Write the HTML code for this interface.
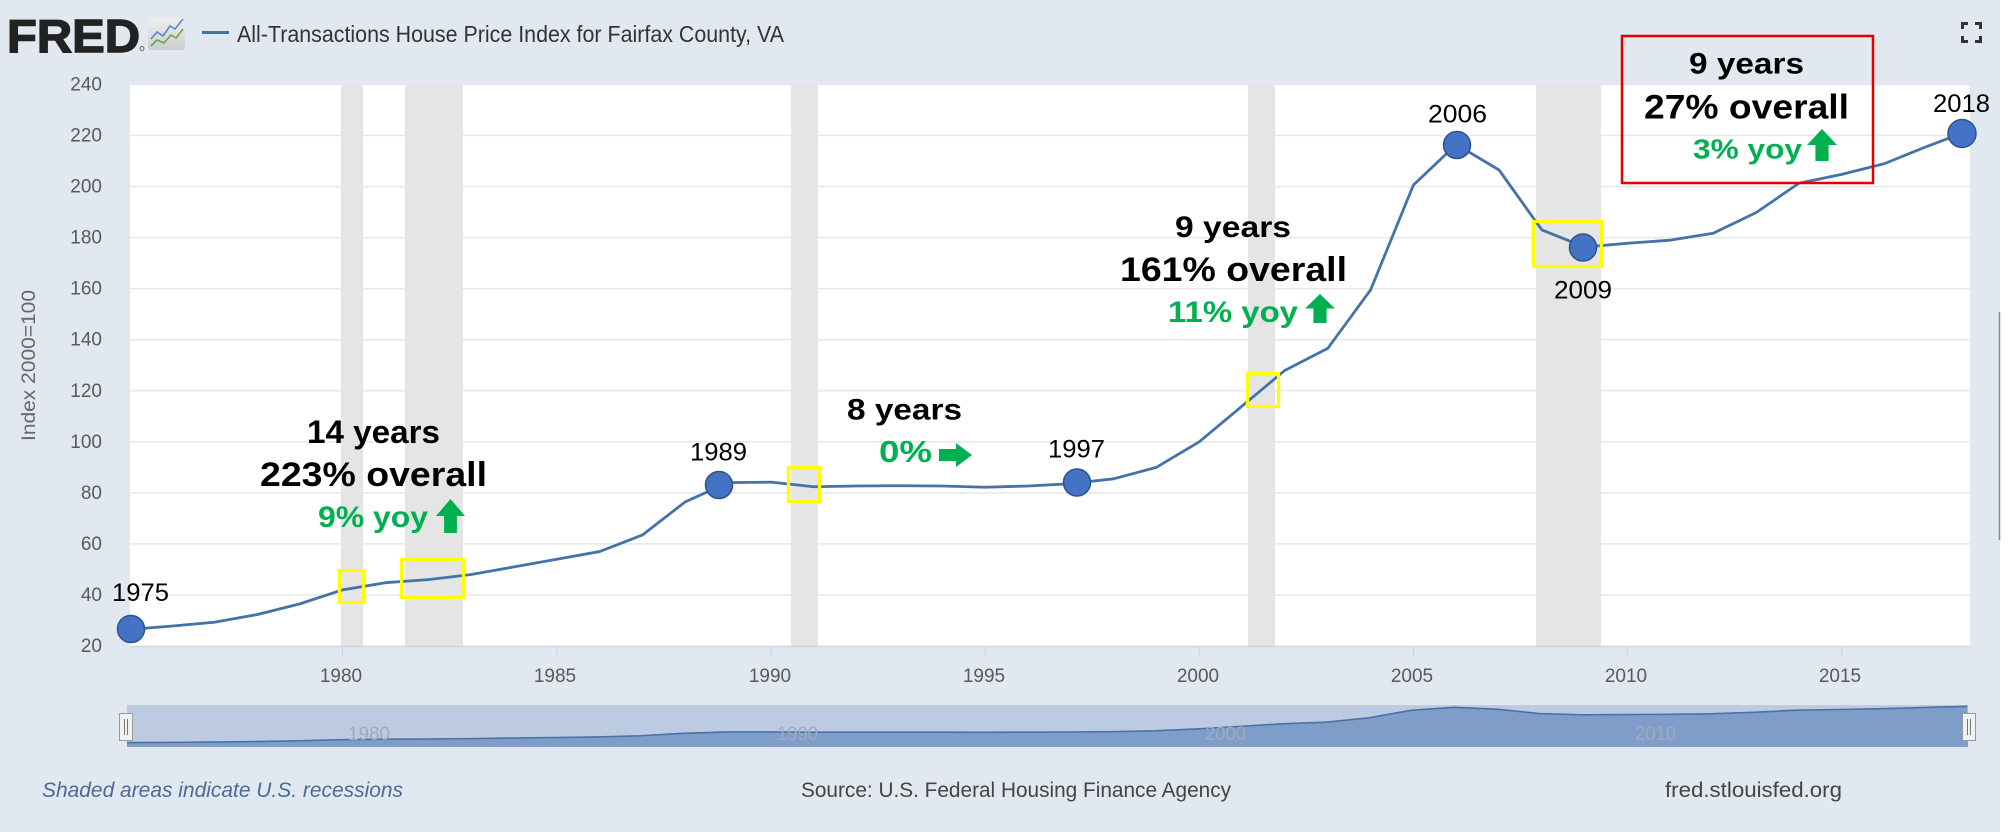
<!DOCTYPE html>
<html>
<head>
<meta charset="utf-8">
<style>
  html, body { margin: 0; padding: 0; background: #ffffff; }
  svg { display: block; }
  text { font-family: "Liberation Sans", Arial, sans-serif; }
</style>
</head>
<body>
<svg width="2010" height="837" viewBox="0 0 2010 837" xmlns="http://www.w3.org/2000/svg">
  <defs>
    <linearGradient id="ig" x1="0" y1="0" x2="0" y2="1">
      <stop offset="0" stop-color="#efefef"/>
      <stop offset="1" stop-color="#cdcdcd"/>
    </linearGradient>
  </defs>

  <!-- page background -->
  <rect x="0" y="0" width="2010" height="837" fill="#ffffff"/>
  <rect x="0" y="0" width="2000" height="832" fill="#e1e8f0"/>

  <!-- Header: FRED logo -->
  <text x="7" y="52" font-size="46" font-weight="bold" fill="#222" stroke="#222" stroke-width="1.4" textLength="133" lengthAdjust="spacingAndGlyphs">FRED</text>
  <circle cx="142" cy="48.5" r="2" fill="none" stroke="#444" stroke-width="0.8"/>
  <rect x="148" y="18" width="37" height="32" rx="3" fill="url(#ig)"/>
  <polyline points="151,39 157,32 163,36 170,26 175,29 183,19" fill="none" stroke="#5b86c5" stroke-width="1.6"/>
  <polyline points="151,46 157,40 164,43 171,35 176,38 183,29" fill="none" stroke="#6aa84f" stroke-width="1.6"/>

  <!-- legend -->
  <line x1="202" y1="32.5" x2="229" y2="32.5" stroke="#4572a7" stroke-width="3"/>
  <text x="237" y="42" font-size="23" fill="#333" textLength="547" lengthAdjust="spacingAndGlyphs">All-Transactions House Price Index for Fairfax County, VA</text>

  <!-- fullscreen icon -->
  <path d="M1962.5,29 V23.5 H1968 M1975,23.5 H1980.5 V29 M1962.5,36 V41.5 H1968 M1975,41.5 H1980.5 V36" fill="none" stroke="#333" stroke-width="3"/>

  <!-- right edge line -->
  <line x1="1999.5" y1="312" x2="1999.5" y2="540" stroke="#7b8ba3" stroke-width="1.5"/>

  <!-- plot area -->
  <rect x="130" y="84" width="1840" height="562" fill="#ffffff"/>

  <!-- gridlines -->
  <g stroke="#e8e8e8" stroke-width="1.5">
    <line x1="130" y1="84.5" x2="1970" y2="84.5"/>
    <line x1="130" y1="135.5" x2="1970" y2="135.5"/>
    <line x1="130" y1="186.6" x2="1970" y2="186.6"/>
    <line x1="130" y1="237.6" x2="1970" y2="237.6"/>
    <line x1="130" y1="288.7" x2="1970" y2="288.7"/>
    <line x1="130" y1="339.7" x2="1970" y2="339.7"/>
    <line x1="130" y1="390.8" x2="1970" y2="390.8"/>
    <line x1="130" y1="441.8" x2="1970" y2="441.8"/>
    <line x1="130" y1="492.9" x2="1970" y2="492.9"/>
    <line x1="130" y1="543.9" x2="1970" y2="543.9"/>
    <line x1="130" y1="595.0" x2="1970" y2="595.0"/>
  </g>

  <!-- recession bands -->
  <g fill="#e5e5e5">
    <rect x="341" y="84" width="22" height="562"/>
    <rect x="405" y="84" width="58" height="562"/>
    <rect x="791" y="84" width="27" height="562"/>
    <rect x="1248" y="84" width="27" height="562"/>
    <rect x="1536" y="84" width="65" height="562"/>
  </g>

  <!-- x axis line and ticks -->
  <line x1="130" y1="646.5" x2="1970" y2="646.5" stroke="#ccd6eb" stroke-width="1.5"/>
  <g stroke="#ccd6eb" stroke-width="1.2">
    <line x1="342.6" y1="646" x2="342.6" y2="656"/>
    <line x1="556.8" y1="646" x2="556.8" y2="656"/>
    <line x1="771" y1="646" x2="771" y2="656"/>
    <line x1="985.1" y1="646" x2="985.1" y2="656"/>
    <line x1="1199.2" y1="646" x2="1199.2" y2="656"/>
    <line x1="1413.4" y1="646" x2="1413.4" y2="656"/>
    <line x1="1627.5" y1="646" x2="1627.5" y2="656"/>
    <line x1="1841.7" y1="646" x2="1841.7" y2="656"/>
  </g>
  <g font-size="19" fill="#595959" text-anchor="middle">
    <text x="341" y="682">1980</text>
    <text x="555" y="682">1985</text>
    <text x="770" y="682">1990</text>
    <text x="984" y="682">1995</text>
    <text x="1198" y="682">2000</text>
    <text x="1412" y="682">2005</text>
    <text x="1626" y="682">2010</text>
    <text x="1840" y="682">2015</text>
  </g>

  <!-- y axis labels -->
  <g font-size="19" fill="#595959" text-anchor="end">
    <text x="102" y="90.5">240</text>
    <text x="102" y="141.5">220</text>
    <text x="102" y="192.6">200</text>
    <text x="102" y="243.6">180</text>
    <text x="102" y="294.7">160</text>
    <text x="102" y="345.7">140</text>
    <text x="102" y="396.8">120</text>
    <text x="102" y="447.8">100</text>
    <text x="102" y="498.9">80</text>
    <text x="102" y="549.9">60</text>
    <text x="102" y="601">40</text>
    <text x="102" y="652">20</text>
  </g>
  <text transform="translate(35,441) rotate(-90)" font-size="19" fill="#666" textLength="151" lengthAdjust="spacingAndGlyphs">Index 2000=100</text>

  <!-- series line -->
  <polyline fill="none" stroke="#4572a7" stroke-width="2.8" stroke-linejoin="round" stroke-linecap="round"
    points="130,629.41 171.33,626.09 214.16,622.26 256.99,614.61 299.82,603.89 342.65,589.85 385.48,582.7 428.31,579.64 471.14,574.54 513.97,566.88 556.8,559.22 599.63,551.56 642.46,534.97 685.29,501.8 728.12,482.65 770.95,482.14 813.78,486.74 856.61,485.97 899.44,485.72 942.27,485.97 985.1,487.25 1027.93,485.97 1070.76,483.67 1113.59,478.82 1156.42,467.34 1199.25,441.82 1242.08,406.08 1284.91,370.35 1327.74,348.4 1370.57,289.95 1413.4,185.05 1456.23,144.47 1499.06,170 1541.89,229.98 1584.72,247.08 1627.55,243.25 1670.38,240.18 1713.21,233.29 1756.04,212.62 1798.87,183.27 1841.7,174.33 1884.53,163.62 1927.36,146.26 1969.5,130.44"/>

  <!-- yellow boxes -->
  <g fill="none" stroke="#ffff00" stroke-width="3.2">
    <rect x="339.5" y="570.5" width="24" height="32"/>
    <rect x="401.5" y="559.5" width="62" height="38"/>
    <rect x="788.5" y="467.5" width="31" height="34"/>
    <rect x="1247.5" y="373.5" width="31" height="33"/>
    <rect x="1533.5" y="221.5" width="68" height="45"/>
  </g>

  <!-- red box -->
  <rect x="1622" y="36" width="251" height="147" fill="none" stroke="#e60000" stroke-width="2.5"/>

  <!-- dots -->
  <g fill="#4472c4" stroke="#2f528f" stroke-width="1.5">
    <circle cx="131" cy="629" r="13.5"/>
    <circle cx="719" cy="485" r="13.5"/>
    <circle cx="1077" cy="482.5" r="13.5"/>
    <circle cx="1457" cy="145" r="13.5"/>
    <circle cx="1583" cy="247.5" r="13.5"/>
    <circle cx="1962" cy="133.5" r="14"/>
  </g>

  <!-- year labels -->
  <g font-size="25" fill="#000">
    <text x="112" y="601" textLength="57" lengthAdjust="spacingAndGlyphs">1975</text>
    <text x="690" y="460.5" textLength="57" lengthAdjust="spacingAndGlyphs">1989</text>
    <text x="1048" y="457.5" textLength="57" lengthAdjust="spacingAndGlyphs">1997</text>
    <text x="1428" y="122.5" textLength="59" lengthAdjust="spacingAndGlyphs">2006</text>
    <text x="1554" y="298.5" textLength="58" lengthAdjust="spacingAndGlyphs">2009</text>
    <text x="1933" y="112" textLength="57" lengthAdjust="spacingAndGlyphs">2018</text>
  </g>

  <!-- annotation texts -->
  <g font-weight="bold" fill="#000">
    <text x="307" y="443" font-size="32" textLength="133" lengthAdjust="spacingAndGlyphs">14 years</text>
    <text x="260" y="486" font-size="34" textLength="227" lengthAdjust="spacingAndGlyphs">223% overall</text>
    <text x="847" y="419.5" font-size="30" textLength="115" lengthAdjust="spacingAndGlyphs">8 years</text>
    <text x="1175" y="237" font-size="30" textLength="116" lengthAdjust="spacingAndGlyphs">9 years</text>
    <text x="1120" y="281" font-size="34" textLength="227" lengthAdjust="spacingAndGlyphs">161% overall</text>
    <text x="1689" y="73.5" font-size="30" textLength="115" lengthAdjust="spacingAndGlyphs">9 years</text>
    <text x="1644" y="118.5" font-size="34" textLength="205" lengthAdjust="spacingAndGlyphs">27% overall</text>
  </g>
  <g font-weight="bold" fill="#00b050">
    <text x="318" y="527" font-size="30" textLength="110" lengthAdjust="spacingAndGlyphs">9% yoy</text>
    <text x="879" y="462" font-size="31" textLength="53" lengthAdjust="spacingAndGlyphs">0%</text>
    <text x="1168" y="322" font-size="30" textLength="130" lengthAdjust="spacingAndGlyphs">11% yoy</text>
    <text x="1693" y="158.5" font-size="28" textLength="109" lengthAdjust="spacingAndGlyphs">3% yoy</text>
  </g>
  <g fill="#00b050">
    <polygon points="450.5,499 465,516 456.9,516 456.9,533 444.1,533 444.1,516 436,516"/>
    <polygon points="1320,294 1335,308.5 1326.6,308.5 1326.6,323 1313.4,323 1313.4,308.5 1305,308.5"/>
    <polygon points="1822,129 1837,145 1828.6,145 1828.6,161 1815.4,161 1815.4,145 1807,145"/>
    <polygon points="972,455 956,443 956,449 939,449 939,461 956,461 956,467"/>
  </g>

  <!-- navigator -->
  <rect x="127" y="705" width="1841" height="42" fill="#bccbe1"/>
  <line x1="127" y1="705.5" x2="1968" y2="705.5" stroke="#c3ccd8" stroke-width="1"/>
  <polygon fill="#7e9dc9" points="127,747 127,742.6 169.8,742.37 212.6,742.09 255.4,741.53 298.2,740.75 341,739.73 383.8,739.21 426.6,738.99 469.4,738.62 512.2,738.06 555,737.5 597.8,736.95 640.6,735.74 683.4,733.33 726.2,731.94 769,731.9 811.8,732.23 854.6,732.18 897.4,732.16 940.2,732.18 983,732.27 1025.8,732.18 1068.6,732.01 1111.4,731.66 1154.2,730.82 1197,728.97 1239.8,726.37 1282.6,723.77 1325.4,722.17 1368.2,717.92 1411,710.29 1453.8,707.34 1496.6,709.2 1539.4,713.56 1582.2,714.8 1625,714.53 1667.8,714.3 1710.6,713.8 1753.4,712.3 1796.2,710.16 1839,709.51 1881.8,708.73 1924.6,707.47 1967.4,706.32 1968,747"/>
  <polyline fill="none" stroke="#4a72a8" stroke-width="1.6" points="127,742.6 169.8,742.37 212.6,742.09 255.4,741.53 298.2,740.75 341,739.73 383.8,739.21 426.6,738.99 469.4,738.62 512.2,738.06 555,737.5 597.8,736.95 640.6,735.74 683.4,733.33 726.2,731.94 769,731.9 811.8,732.23 854.6,732.18 897.4,732.16 940.2,732.18 983,732.27 1025.8,732.18 1068.6,732.01 1111.4,731.66 1154.2,730.82 1197,728.97 1239.8,726.37 1282.6,723.77 1325.4,722.17 1368.2,717.92 1411,710.29 1453.8,707.34 1496.6,709.2 1539.4,713.56 1582.2,714.8 1625,714.53 1667.8,714.3 1710.6,713.8 1753.4,712.3 1796.2,710.16 1839,709.51 1881.8,708.73 1924.6,707.47 1967.4,706.32"/>
  <g font-size="19" fill="#a0aabb">
    <text x="348" y="740" textLength="42" lengthAdjust="spacingAndGlyphs">1980</text>
    <text x="777" y="740" textLength="41" lengthAdjust="spacingAndGlyphs">1990</text>
    <text x="1205" y="740" textLength="41" lengthAdjust="spacingAndGlyphs">2000</text>
    <text x="1635" y="740" textLength="41" lengthAdjust="spacingAndGlyphs">2010</text>
  </g>
  <!-- handles -->
  <g>
    <rect x="119.5" y="713.5" width="13" height="27" fill="#f2f2f2" stroke="#999" stroke-width="1"/>
    <line x1="124.5" y1="719" x2="124.5" y2="735" stroke="#777" stroke-width="1"/>
    <line x1="127.5" y1="719" x2="127.5" y2="735" stroke="#777" stroke-width="1"/>
    <rect x="1962.5" y="713.5" width="13" height="27" fill="#f2f2f2" stroke="#999" stroke-width="1"/>
    <line x1="1967.5" y1="719" x2="1967.5" y2="735" stroke="#777" stroke-width="1"/>
    <line x1="1970.5" y1="719" x2="1970.5" y2="735" stroke="#777" stroke-width="1"/>
  </g>

  <!-- footer -->
  <text x="42" y="797" font-size="21" font-style="italic" fill="#4b6a98" textLength="361" lengthAdjust="spacingAndGlyphs">Shaded areas indicate U.S. recessions</text>
  <text x="801" y="797" font-size="21" fill="#444" textLength="430" lengthAdjust="spacingAndGlyphs">Source: U.S. Federal Housing Finance Agency</text>
  <text x="1665" y="797" font-size="21" fill="#444" textLength="177" lengthAdjust="spacingAndGlyphs">fred.stlouisfed.org</text>
</svg>
</body>
</html>
